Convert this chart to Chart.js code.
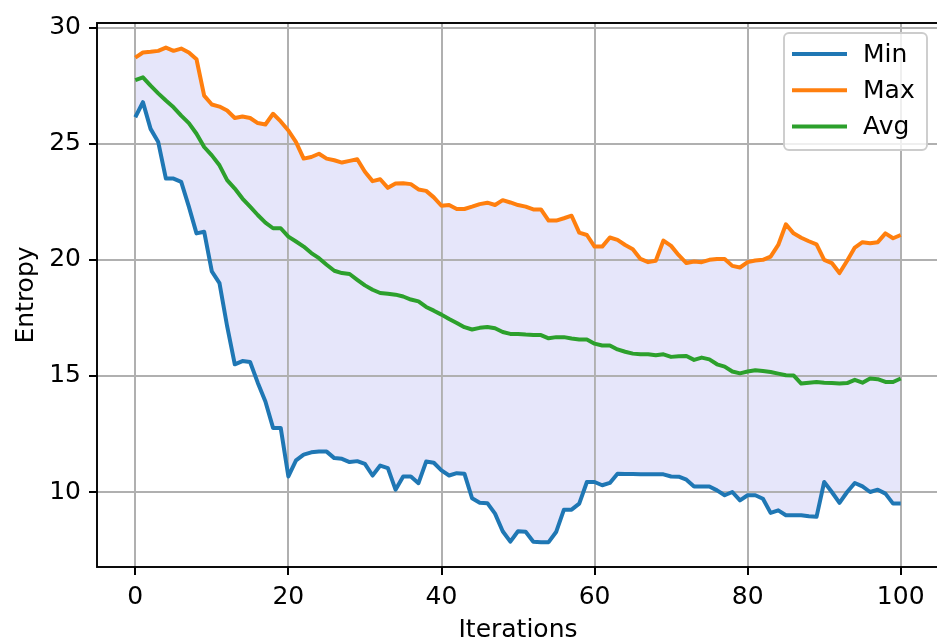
<!DOCTYPE html>
<html>
<head>
<meta charset="utf-8">
<title>Entropy</title>
<style>
html, body {
	margin: 0;
	padding: 0;
	background: #fff;
	overflow: hidden;
}
.chart {
	position: relative;
	width: 945px;
	height: 642px;
}
</style>
<script src="https://cdn.jsdelivr.net/npm/chart.js@4.4.0/dist/chart.umd.min.js"></script>
</head>
<body>
<div class="chart"><canvas id="entropy"></canvas></div>
<script>
var iterations = [0, 1, 2, 3, 4, 5, 6, 7, 8, 9, 10, 11, 12, 13, 14, 15, 16, 17, 18, 19,
	20, 21, 22, 23, 24, 25, 26, 27, 28, 29, 30, 31, 32, 33, 34, 35, 36, 37, 38, 39,
	40, 41, 42, 43, 44, 45, 46, 47, 48, 49, 50, 51, 52, 53, 54, 55, 56, 57, 58, 59,
	60, 61, 62, 63, 64, 65, 66, 67, 68, 69, 70, 71, 72, 73, 74, 75, 76, 77, 78, 79,
	80, 81, 82, 83, 84, 85, 86, 87, 88, 89, 90, 91, 92, 93, 94, 95, 96, 97, 98, 99, 100];

var minEntropy = [26.14, 26.79, 25.64, 25.07, 23.5, 23.5, 23.36, 22.29, 21.14, 21.21,
	19.5, 19.0, 17.14, 15.5, 15.64, 15.6, 14.71, 13.9, 12.76, 12.76,
	10.67, 11.36, 11.61, 11.71, 11.74, 11.74, 11.46, 11.43, 11.29, 11.33,
	11.21, 10.71, 11.14, 11.03, 10.1, 10.67, 10.67, 10.38, 11.31, 11.26,
	10.93, 10.71, 10.81, 10.79, 9.73, 9.54, 9.52, 9.07, 8.31, 7.86,
	8.31, 8.29, 7.86, 7.84, 7.84, 8.29, 9.24, 9.24, 9.5, 10.43,
	10.43, 10.29, 10.39, 10.79, 10.78, 10.78, 10.76, 10.76, 10.76, 10.76,
	10.67, 10.66, 10.53, 10.24, 10.24, 10.24, 10.07, 9.86, 10.0, 9.64,
	9.86, 9.86, 9.71, 9.1, 9.21, 9.0, 9.0, 9.0, 8.96, 8.93,
	10.43, 10.0, 9.53, 10.0, 10.39, 10.24, 10.0, 10.1, 9.93, 9.5, 9.5];

var maxEntropy = [28.71, 28.93, 28.96, 29.0, 29.14, 29.0, 29.1, 28.93, 28.64, 27.07,
	26.69, 26.6, 26.43, 26.11, 26.17, 26.11, 25.89, 25.83, 26.29, 25.96,
	25.57, 25.07, 24.36, 24.43, 24.57, 24.36, 24.29, 24.19, 24.26, 24.33,
	23.79, 23.39, 23.47, 23.1, 23.29, 23.3, 23.26, 23.03, 22.97, 22.69,
	22.33, 22.36, 22.19, 22.19, 22.29, 22.4, 22.46, 22.36, 22.57, 22.47,
	22.36, 22.29, 22.17, 22.17, 21.69, 21.69, 21.79, 21.9, 21.17, 21.07,
	20.57, 20.57, 20.96, 20.86, 20.64, 20.46, 20.04, 19.9, 19.96, 20.83,
	20.6, 20.2, 19.86, 19.93, 19.9, 20.0, 20.04, 20.04, 19.74, 19.67,
	19.9, 19.97, 20.0, 20.14, 20.64, 21.53, 21.14, 20.95, 20.8, 20.67,
	20.0, 19.86, 19.43, 19.96, 20.53, 20.76, 20.71, 20.76, 21.14, 20.93, 21.07];

var avgEntropy = [27.74, 27.86, 27.5, 27.17, 26.86, 26.57, 26.21, 25.89, 25.43, 24.86,
	24.5, 24.07, 23.43, 23.07, 22.64, 22.29, 21.93, 21.6, 21.36, 21.36,
	21.0, 20.79, 20.57, 20.29, 20.07, 19.79, 19.53, 19.43, 19.39, 19.14,
	18.9, 18.71, 18.57, 18.54, 18.5, 18.42, 18.29, 18.21, 17.97, 17.81,
	17.64, 17.45, 17.28, 17.1, 17.0, 17.07, 17.11, 17.05, 16.89, 16.81,
	16.81, 16.78, 16.76, 16.76, 16.62, 16.67, 16.67, 16.61, 16.57, 16.57,
	16.39, 16.31, 16.31, 16.14, 16.04, 15.96, 15.93, 15.93, 15.89, 15.93,
	15.82, 15.85, 15.86, 15.69, 15.79, 15.71, 15.5, 15.4, 15.19, 15.11,
	15.19, 15.24, 15.21, 15.17, 15.1, 15.03, 15.02, 14.67, 14.71, 14.74,
	14.71, 14.69, 14.67, 14.69, 14.83, 14.71, 14.89, 14.86, 14.74, 14.74, 14.89];

var xTicks = [0, 20, 40, 60, 80, 100];
var yTicks = [10, 15, 20, 25, 30];

var font = { family: 'DejaVu Sans', size: 25 };

// grid goes over the lavender band, under the lines (matplotlib order)
var gridOver = {
	id: 'gridOver',
	beforeDatasetsDraw: function(chart) {
		chart.scales.x.drawGrid(chart.chartArea);
		chart.scales.y.drawGrid(chart.chartArea);
	}
};

// axes box, drawn over the lines like the spines
var frame = {
	id: 'frame',
	afterDatasetsDraw: function(chart) {
		var a = chart.chartArea;
		var ctx = chart.ctx;
		ctx.save();
		ctx.strokeStyle = '#000';
		ctx.lineWidth = 1.9;
		ctx.strokeRect(a.left, a.top, a.right - a.left, a.bottom - a.top);
		ctx.restore();
	}
};

// legend in the upper right corner of the plot
var boxLegend = {
	id: 'boxLegend',
	afterDraw: function(chart) {
		var ctx = chart.ctx;
		ctx.save();
		ctx.beginPath();
		ctx.roundRect(784, 33, 143, 117, 5);
		ctx.fillStyle = 'rgba(255,255,255,0.8)';
		ctx.fill();
		ctx.strokeStyle = '#cccccc';
		ctx.lineWidth = 1.9;
		ctx.stroke();
		ctx.font = '25px "DejaVu Sans"';
		ctx.textBaseline = 'middle';
		chart.data.datasets.forEach(function(ds, i) {
			var y = 54 + i * 36.3;
			ctx.strokeStyle = ds.borderColor;
			ctx.lineWidth = 4;
			ctx.beginPath();
			ctx.moveTo(792, y);
			ctx.lineTo(847, y);
			ctx.stroke();
			ctx.fillStyle = '#000';
			ctx.fillText(ds.label, 863, y + 1);
		});
		ctx.restore();
	}
};

var grid = { color: '#b0b0b0', lineWidth: 1.9, tickColor: '#000', tickWidth: 1.9, tickLength: 8 };

new Chart(document.getElementById('entropy'), {
	type: 'line',
	data: {
		labels: iterations,
		datasets: [{
			label: 'Min',
			data: minEntropy,
			borderColor: '#1f77b4',
			borderWidth: 4,
			pointRadius: 0,
			fill: false
		}, {
			label: 'Max',
			data: maxEntropy,
			borderColor: '#ff7f0e',
			backgroundColor: '#e6e6fa',
			borderWidth: 4,
			pointRadius: 0,
			fill: '-1'
		}, {
			label: 'Avg',
			data: avgEntropy,
			borderColor: '#2ca02c',
			borderWidth: 4,
			pointRadius: 0,
			fill: false
		}]
	},
	options: {
		responsive: true,
		maintainAspectRatio: false,
		animation: false,
		events: [],
		layout: { padding: { top: 20.5, right: 6, bottom: 0, left: 0 } },
		elements: { line: { tension: 0, borderJoinStyle: 'round' } },
		scales: {
			x: {
				type: 'linear',
				min: -5,
				max: 105,
				afterBuildTicks: function(s) { s.ticks = xTicks.map(function(v) { return { value: v }; }); },
				afterFit: function(s) { s.height = 75; },
				grid: grid,
				border: { display: false },
				ticks: { color: '#000', padding: 7, maxRotation: 0, font: font },
				title: { display: true, text: 'Iterations', color: '#000', font: font, padding: { top: 0, bottom: -3.5 } }
			},
			y: {
				type: 'linear',
				min: 6.77,
				max: 30.2,
				afterBuildTicks: function(s) { s.ticks = yTicks.map(function(v) { return { value: v }; }); },
				afterFit: function(s) { s.width = 97; },
				grid: grid,
				border: { display: false },
				ticks: { color: '#000', padding: 8, font: font },
				title: { display: true, text: 'Entropy', color: '#000', font: font, padding: { top: 11, bottom: 0 } }
			}
		},
		plugins: {
			legend: { display: false },
			tooltip: { enabled: false },
			filler: { drawTime: 'beforeDatasetsDraw' }
		}
	},
	plugins: [gridOver, frame, boxLegend]
});
</script>
</body>
</html>
